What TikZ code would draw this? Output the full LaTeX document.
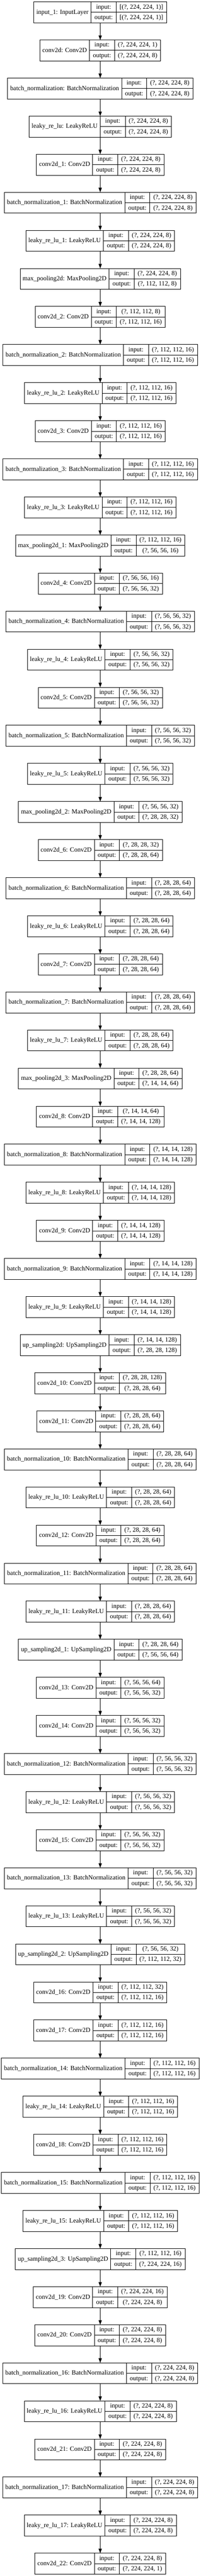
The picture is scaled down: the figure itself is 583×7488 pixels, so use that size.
\documentclass[tikz,border=0pt]{standalone}
\usepackage{fontspec}
\setmainfont{Liberation Serif}
\usetikzlibrary{arrows.meta}
\newcommand{\kfont}{\fontsize{18.67}{22}\selectfont}
\newlength{\kwA}\newlength{\kwB}\newlength{\kwC}\newlength{\kwT}
\tikzset{
  kbox/.style={draw=black, line width=1.3pt, minimum height=61pt, inner sep=0pt, outer sep=0pt},
  kcell/.style={draw=black, line width=1.3pt},
  ktxt/.style={inner sep=0pt, font=\kfont, text height=14pt, text depth=4pt},
  karr/.style={draw=black, line width=1.3pt, -{Triangle[length=13pt,width=9.5pt]}}
}
% measuring pass (outside the picture, where a real font is active)
\newcommand{\kmeasure}[4]{%
  \settowidth{\kwA}{\kfont #2}\addtolength{\kwA}{15pt}%
  \settowidth{\kwB}{\kfont output:}\addtolength{\kwB}{20pt}%
  \settowidth{\kwC}{\kfont #3}\settowidth{\kwT}{\kfont #4}%
  \ifdim\kwT>\kwC \kwC=\kwT\fi
  \addtolength{\kwC}{20pt}%
  \kwT=\kwA \advance\kwT by \kwB \advance\kwT by \kwC
  \pgfmathsetmacro{\tmpl}{291.2-\kwT/2}%
  \pgfmathsetmacro{\tmpa}{\tmpl+\kwA}%
  \pgfmathsetmacro{\tmpb}{\tmpa+\kwB}%
  \pgfmathsetmacro{\tmpr}{\tmpl+\kwT}%
  \pgfmathsetmacro{\tmpw}{\kwT}%
  \expandafter\xdef\csname kl#1\endcsname{\tmpl}%
  \expandafter\xdef\csname ka#1\endcsname{\tmpa}%
  \expandafter\xdef\csname kb#1\endcsname{\tmpb}%
  \expandafter\xdef\csname kr#1\endcsname{\tmpr}%
  \expandafter\xdef\csname kw#1\endcsname{\tmpw}%
}
% drawing pass
\newcommand{\kdraw}[4]{%
  \edef\kl{\csname kl#1\endcsname}%
  \edef\ka{\csname ka#1\endcsname}%
  \edef\kb{\csname kb#1\endcsname}%
  \edef\kr{\csname kr#1\endcsname}%
  \edef\kw{\csname kw#1\endcsname}%
  \pgfmathsetmacro{\ktop}{5.33+(#1-1)*110.69}%
  \pgfmathsetmacro{\kmid}{\ktop+30.5}%
  \pgfmathsetmacro{\kup}{\ktop+15.25}%
  \pgfmathsetmacro{\kdn}{\ktop+45.75}%
  \pgfmathsetmacro{\kbot}{\ktop+61}%
  \node[kbox, minimum width=\kw pt, anchor=north west] (L#1) at (\kl,\ktop) {};
  \draw[kcell] (\ka,\ktop) -- (\ka,\kbot) (\kb,\ktop) -- (\kb,\kbot) (\ka,\kmid) -- (\kr,\kmid);
  \node[ktxt] (L#1n) at ({(\kl+\ka)/2},\kmid) {#2};
  \node[ktxt] (L#1a) at ({(\ka+\kb)/2},\kup) {input:};
  \node[ktxt] (L#1b) at ({(\ka+\kb)/2},\kdn) {output:};
  \node[ktxt] (L#1c) at ({(\kb+\kr)/2},\kup) {#3};
  \node[ktxt] (L#1d) at ({(\kb+\kr)/2},\kdn) {#4};
}
\newcommand{\kdo}{}
\newcommand{\ksame}[3]{\kdo{#1}{#2}{#3}{#3}}
\newcommand{\klist}{%
\ksame{1}{input\_1: InputLayer}{[(?, 224, 224, 1)]}
\kdo{2}{conv2d: Conv2D}{(?, 224, 224, 1)}{(?, 224, 224, 8)}
\ksame{3}{batch\_normalization: BatchNormalization}{(?, 224, 224, 8)}
\ksame{4}{leaky\_re\_lu: LeakyReLU}{(?, 224, 224, 8)}
\ksame{5}{conv2d\_1: Conv2D}{(?, 224, 224, 8)}
\ksame{6}{batch\_normalization\_1: BatchNormalization}{(?, 224, 224, 8)}
\ksame{7}{leaky\_re\_lu\_1: LeakyReLU}{(?, 224, 224, 8)}
\kdo{8}{max\_pooling2d: MaxPooling2D}{(?, 224, 224, 8)}{(?, 112, 112, 8)}
\kdo{9}{conv2d\_2: Conv2D}{(?, 112, 112, 8)}{(?, 112, 112, 16)}
\ksame{10}{batch\_normalization\_2: BatchNormalization}{(?, 112, 112, 16)}
\ksame{11}{leaky\_re\_lu\_2: LeakyReLU}{(?, 112, 112, 16)}
\ksame{12}{conv2d\_3: Conv2D}{(?, 112, 112, 16)}
\ksame{13}{batch\_normalization\_3: BatchNormalization}{(?, 112, 112, 16)}
\ksame{14}{leaky\_re\_lu\_3: LeakyReLU}{(?, 112, 112, 16)}
\kdo{15}{max\_pooling2d\_1: MaxPooling2D}{(?, 112, 112, 16)}{(?, 56, 56, 16)}
\kdo{16}{conv2d\_4: Conv2D}{(?, 56, 56, 16)}{(?, 56, 56, 32)}
\ksame{17}{batch\_normalization\_4: BatchNormalization}{(?, 56, 56, 32)}
\ksame{18}{leaky\_re\_lu\_4: LeakyReLU}{(?, 56, 56, 32)}
\ksame{19}{conv2d\_5: Conv2D}{(?, 56, 56, 32)}
\ksame{20}{batch\_normalization\_5: BatchNormalization}{(?, 56, 56, 32)}
\ksame{21}{leaky\_re\_lu\_5: LeakyReLU}{(?, 56, 56, 32)}
\kdo{22}{max\_pooling2d\_2: MaxPooling2D}{(?, 56, 56, 32)}{(?, 28, 28, 32)}
\kdo{23}{conv2d\_6: Conv2D}{(?, 28, 28, 32)}{(?, 28, 28, 64)}
\ksame{24}{batch\_normalization\_6: BatchNormalization}{(?, 28, 28, 64)}
\ksame{25}{leaky\_re\_lu\_6: LeakyReLU}{(?, 28, 28, 64)}
\ksame{26}{conv2d\_7: Conv2D}{(?, 28, 28, 64)}
\ksame{27}{batch\_normalization\_7: BatchNormalization}{(?, 28, 28, 64)}
\ksame{28}{leaky\_re\_lu\_7: LeakyReLU}{(?, 28, 28, 64)}
\kdo{29}{max\_pooling2d\_3: MaxPooling2D}{(?, 28, 28, 64)}{(?, 14, 14, 64)}
\kdo{30}{conv2d\_8: Conv2D}{(?, 14, 14, 64)}{(?, 14, 14, 128)}
\ksame{31}{batch\_normalization\_8: BatchNormalization}{(?, 14, 14, 128)}
\ksame{32}{leaky\_re\_lu\_8: LeakyReLU}{(?, 14, 14, 128)}
\ksame{33}{conv2d\_9: Conv2D}{(?, 14, 14, 128)}
\ksame{34}{batch\_normalization\_9: BatchNormalization}{(?, 14, 14, 128)}
\ksame{35}{leaky\_re\_lu\_9: LeakyReLU}{(?, 14, 14, 128)}
\kdo{36}{up\_sampling2d: UpSampling2D}{(?, 14, 14, 128)}{(?, 28, 28, 128)}
\kdo{37}{conv2d\_10: Conv2D}{(?, 28, 28, 128)}{(?, 28, 28, 64)}
\ksame{38}{conv2d\_11: Conv2D}{(?, 28, 28, 64)}
\ksame{39}{batch\_normalization\_10: BatchNormalization}{(?, 28, 28, 64)}
\ksame{40}{leaky\_re\_lu\_10: LeakyReLU}{(?, 28, 28, 64)}
\ksame{41}{conv2d\_12: Conv2D}{(?, 28, 28, 64)}
\ksame{42}{batch\_normalization\_11: BatchNormalization}{(?, 28, 28, 64)}
\ksame{43}{leaky\_re\_lu\_11: LeakyReLU}{(?, 28, 28, 64)}
\kdo{44}{up\_sampling2d\_1: UpSampling2D}{(?, 28, 28, 64)}{(?, 56, 56, 64)}
\kdo{45}{conv2d\_13: Conv2D}{(?, 56, 56, 64)}{(?, 56, 56, 32)}
\ksame{46}{conv2d\_14: Conv2D}{(?, 56, 56, 32)}
\ksame{47}{batch\_normalization\_12: BatchNormalization}{(?, 56, 56, 32)}
\ksame{48}{leaky\_re\_lu\_12: LeakyReLU}{(?, 56, 56, 32)}
\ksame{49}{conv2d\_15: Conv2D}{(?, 56, 56, 32)}
\ksame{50}{batch\_normalization\_13: BatchNormalization}{(?, 56, 56, 32)}
\ksame{51}{leaky\_re\_lu\_13: LeakyReLU}{(?, 56, 56, 32)}
\kdo{52}{up\_sampling2d\_2: UpSampling2D}{(?, 56, 56, 32)}{(?, 112, 112, 32)}
\kdo{53}{conv2d\_16: Conv2D}{(?, 112, 112, 32)}{(?, 112, 112, 16)}
\ksame{54}{conv2d\_17: Conv2D}{(?, 112, 112, 16)}
\ksame{55}{batch\_normalization\_14: BatchNormalization}{(?, 112, 112, 16)}
\ksame{56}{leaky\_re\_lu\_14: LeakyReLU}{(?, 112, 112, 16)}
\ksame{57}{conv2d\_18: Conv2D}{(?, 112, 112, 16)}
\ksame{58}{batch\_normalization\_15: BatchNormalization}{(?, 112, 112, 16)}
\ksame{59}{leaky\_re\_lu\_15: LeakyReLU}{(?, 112, 112, 16)}
\kdo{60}{up\_sampling2d\_3: UpSampling2D}{(?, 112, 112, 16)}{(?, 224, 224, 16)}
\kdo{61}{conv2d\_19: Conv2D}{(?, 224, 224, 16)}{(?, 224, 224, 8)}
\ksame{62}{conv2d\_20: Conv2D}{(?, 224, 224, 8)}
\ksame{63}{batch\_normalization\_16: BatchNormalization}{(?, 224, 224, 8)}
\ksame{64}{leaky\_re\_lu\_16: LeakyReLU}{(?, 224, 224, 8)}
\ksame{65}{conv2d\_21: Conv2D}{(?, 224, 224, 8)}
\ksame{66}{batch\_normalization\_17: BatchNormalization}{(?, 224, 224, 8)}
\ksame{67}{leaky\_re\_lu\_17: LeakyReLU}{(?, 224, 224, 8)}
\kdo{68}{conv2d\_22: Conv2D}{(?, 224, 224, 8)}{(?, 224, 224, 1)}
}
\begin{document}
\let\kdo\kmeasure
\klist
\let\kdo\kdraw
\begin{tikzpicture}[x=1pt, y=-1pt]
\fill[white] (0,0) rectangle (583,7488);
\useasboundingbox (0,0) rectangle (583,7488);
\klist
\foreach \i [evaluate=\i as \j using int(\i+1)] in {1,...,67} {
  \draw[karr] (L\i.south) -- (L\j.north);
}
\end{tikzpicture}
\end{document}
